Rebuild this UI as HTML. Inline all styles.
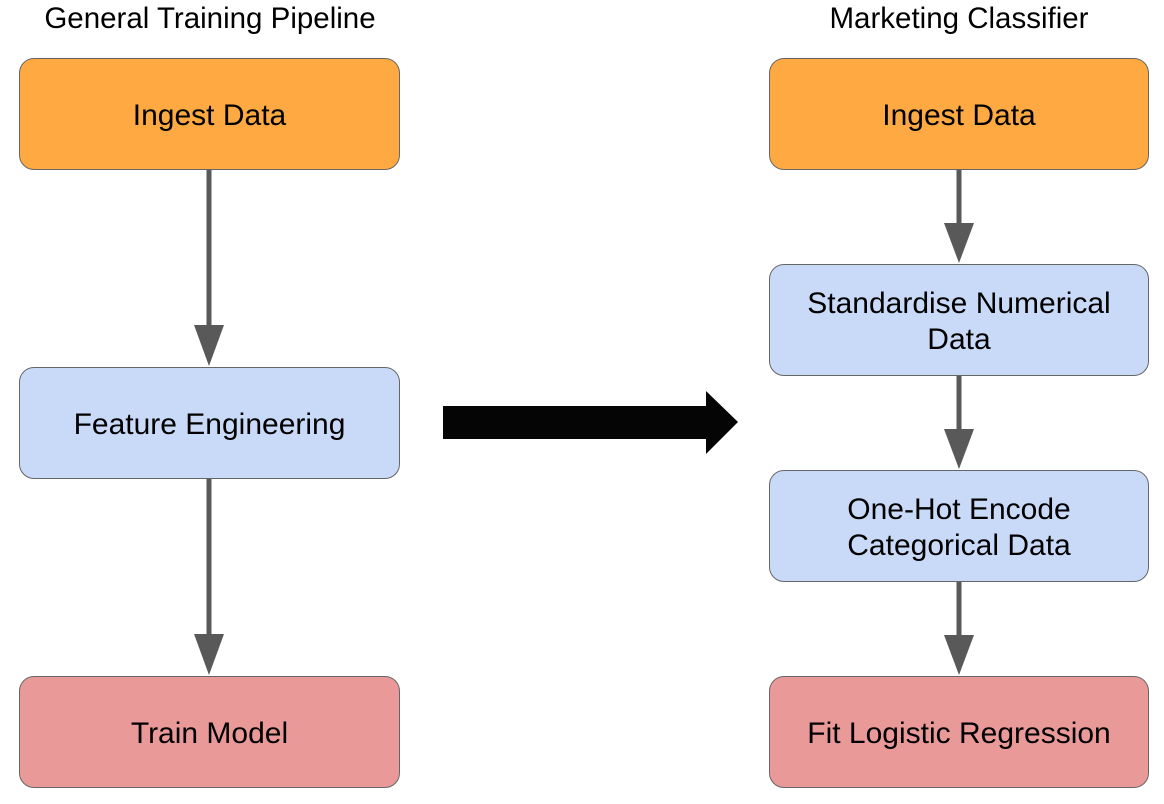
<!DOCTYPE html>
<html><head><style>
body{margin:0;width:1164px;height:804px;background:#fff;font-family:"Liberation Sans",sans-serif;position:relative;overflow:hidden}
.t{position:absolute;top:2px;font-size:29.5px;color:#000;text-align:center;width:420px}
.b{position:absolute;box-sizing:border-box;border:1.5px solid #666;border-radius:15px;display:flex;align-items:center;justify-content:center;text-align:center;font-size:30px;line-height:36px;color:#000;padding-top:3px}
.o{background:#fea942}.bl{background:#c9daf8}.r{background:#ea9999}
</style></head><body>
<div class="t" style="left:0px">General Training Pipeline</div>
<div class="t" style="left:749px">Marketing Classifier</div>
<div class="b o" style="left:19px;top:58px;width:381px;height:112px">Ingest Data</div>
<div class="b bl" style="left:19px;top:367px;width:381px;height:112px">Feature Engineering</div>
<div class="b r" style="left:19px;top:676px;width:381px;height:112px">Train Model</div>
<div class="b o" style="left:769px;top:58px;width:380px;height:112px">Ingest Data</div>
<div class="b bl" style="left:769px;top:264px;width:380px;height:112px">Standardise Numerical<br>Data</div>
<div class="b bl" style="left:769px;top:470px;width:380px;height:112px">One-Hot Encode<br>Categorical Data</div>
<div class="b r" style="left:769px;top:676px;width:380px;height:112px">Fit Logistic Regression</div>
<svg width="1164" height="804" style="position:absolute;left:0;top:0">
<g fill="#595959" stroke="none">
<rect x="206.5" y="170" width="5" height="160"/><polygon points="194,325 224,325 209,366"/>
<rect x="206.5" y="479" width="5" height="160"/><polygon points="194,634 224,634 209,675"/>
<rect x="956.5" y="170" width="5" height="60"/><polygon points="944,223 974,223 959,263"/>
<rect x="956.5" y="376" width="5" height="60"/><polygon points="944,429 974,429 959,469"/>
<rect x="956.5" y="582" width="5" height="60"/><polygon points="944,635 974,635 959,675"/>
</g>
<polygon fill="#050505" points="443,406 706,406 706,391 738,422 706,454 706,439 443,439"/>
</svg>
</body></html>
